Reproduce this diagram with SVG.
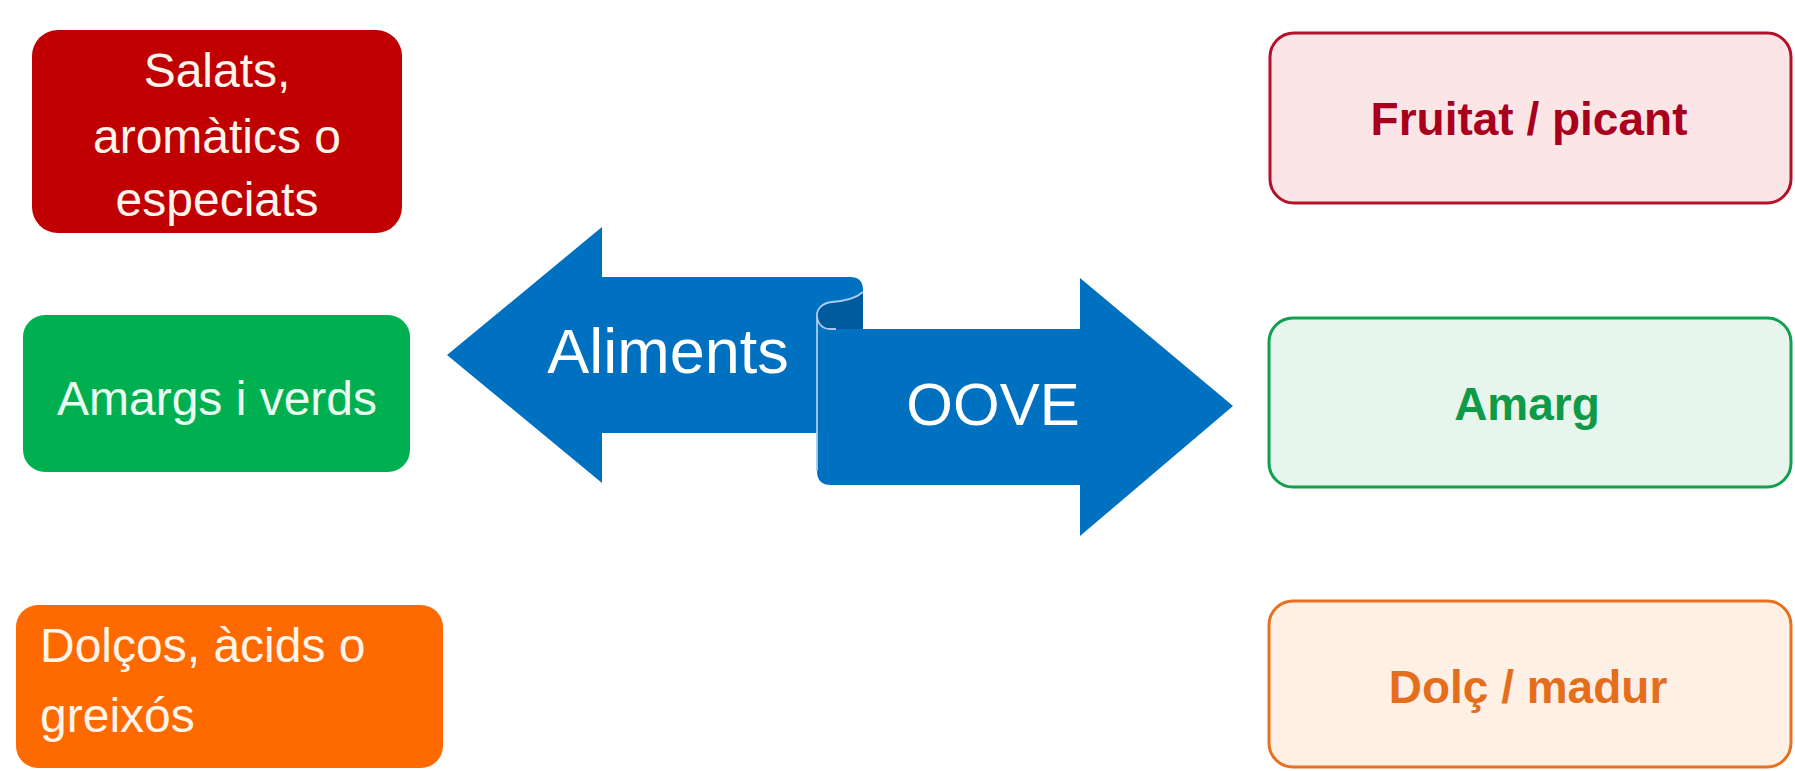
<svg xmlns="http://www.w3.org/2000/svg" width="1795" height="771" viewBox="0 0 1795 771">
  <style>
    .lbl { font-family: "Liberation Sans", Arial, sans-serif; }
    .solid text { font-size: 48px; }
    .soft text { font-size: 46px; font-weight: bold; }
    .soft rect { stroke-width: 3; }
    .ribbon text { font-family: "Liberation Sans", Arial, sans-serif; fill: #FFFFFF; }
  </style>

  <rect width="1795" height="771" fill="#FFFFFF"/>

  <!-- food groups (left, solid boxes) -->
  <g id="salats" class="solid lbl">
    <rect x="32" y="30" width="370" height="203" rx="26" fill="#C00000"/>
    <text x="217" y="87" text-anchor="middle" fill="#FFF5EC">Salats,</text>
    <text x="217" y="153" text-anchor="middle" fill="#FFF5EC">aromàtics o</text>
    <text x="217" y="216" text-anchor="middle" fill="#FFF5EC">especiats</text>
  </g>
  <g id="amargs" class="solid lbl">
    <rect x="23" y="315" width="387" height="157" rx="22" fill="#00B050"/>
    <text x="217" y="415" text-anchor="middle" fill="#EAFFF1">Amargs i verds</text>
  </g>
  <g id="dolcos" class="solid lbl">
    <rect x="16" y="605" width="427" height="163" rx="22" fill="#FF6A00"/>
    <text x="40" y="662" fill="#FFF5EA">Dolços, àcids o</text>
    <text x="40" y="732" fill="#FFF5EA">greixós</text>
  </g>

  <!-- oil profiles (right, outlined boxes) -->
  <g id="fruitat" class="soft lbl">
    <rect x="1270" y="33" width="521" height="170" rx="24" fill="#FBE5E6" stroke="#B3122A"/>
    <text x="1529" y="135" text-anchor="middle" fill="#A8001C">Fruitat / picant</text>
  </g>
  <g id="amarg" class="soft lbl">
    <rect x="1269" y="318" width="522" height="169" rx="24" fill="#E6F6EC" stroke="#12A050"/>
    <text x="1527" y="420" text-anchor="middle" fill="#0F9A48">Amarg</text>
  </g>
  <g id="dolc" class="soft lbl">
    <rect x="1269" y="601" width="522" height="166" rx="24" fill="#FEF0E5" stroke="#E8701E"/>
    <text x="1528" y="703" text-anchor="middle" fill="#E56E1C">Dolç / madur</text>
  </g>

  <!-- central double scroll arrow -->
  <g id="connectors" class="ribbon">
    <!-- left-pointing ribbon -->
    <path d="M447,355 L602,227 L602,277 L850,277 Q863,277 863,290 L863,335 L817,335 L817,433 L602,433 L602,483 Z" fill="#0070C0"/>
    <!-- inside of the curl -->
    <path d="M863,292 C855,299 845,301 832,302 C822,303 817,309 817,315 C817,323 822,329 830,329 L863,329 Z" fill="#005A9E"/>
    <!-- right-pointing ribbon -->
    <path d="M817,315 C817,323 822,329 830,329 L1080,329 L1080,278 L1233,406 L1080,536 L1080,485 L831,485 Q817,485 817,471 Z" fill="#0070C0"/>
    <!-- curl highlight -->
    <path d="M863,292 C855,299 845,301 832,302 C822,303 817,309 817,315 C817,323 822,329 830,329 L836,329 M817,315 L817,471" fill="none" stroke="#A9CCEB" stroke-width="1.8"/>
    <text x="668" y="373" font-size="63" text-anchor="middle">Aliments</text>
    <text x="993" y="425" font-size="60" text-anchor="middle">OOVE</text>
  </g>
</svg>
